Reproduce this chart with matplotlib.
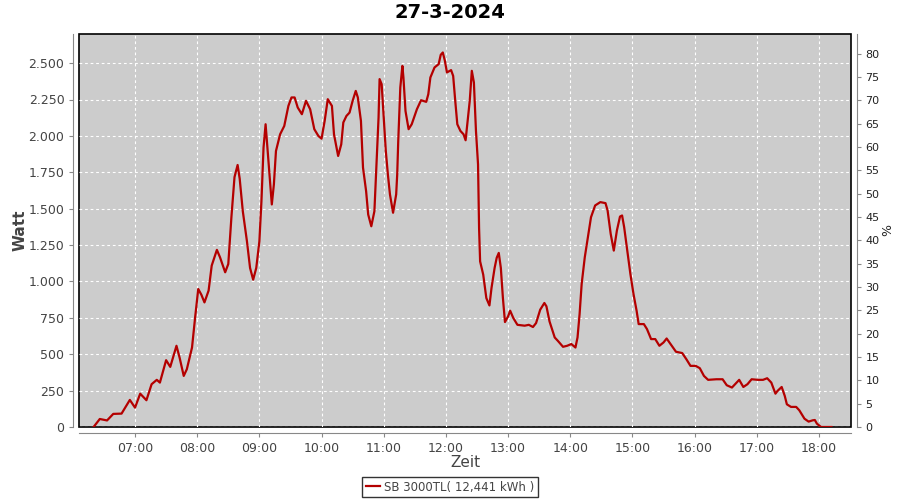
import matplotlib
matplotlib.use("Agg")
import matplotlib.pyplot as plt
from matplotlib.ticker import FuncFormatter, MultipleLocator

title = "27-3-2024"
series_name = "SB 3000TL( 12,441 kWh )"
times = ["06:20", "06:26", "06:33", "06:39", "06:47", "06:55", "07:00", "07:05", "07:11", "07:16",
         "07:21", "07:24", "07:30", "07:34", "07:40", "07:43", "07:47", "07:50", "07:55", "07:58",
         "08:01", "08:04", "08:07", "08:11", "08:14", "08:19", "08:22", "08:27", "08:30", "08:33",
         "08:36", "08:39", "08:41", "08:44", "08:48", "08:51", "08:54", "08:57", "09:00", "09:02",
         "09:04", "09:06", "09:08", "09:10", "09:12", "09:14", "09:16", "09:20", "09:24", "09:28",
         "09:31", "09:34", "09:37", "09:41", "09:45", "09:49", "09:53", "09:57", "10:00", "10:03",
         "10:06", "10:10", "10:12", "10:16", "10:19", "10:21", "10:24", "10:27", "10:30", "10:33",
         "10:35", "10:38", "10:40", "10:43", "10:45", "10:48", "10:51", "10:53", "10:55", "10:56",
         "10:58", "11:00", "11:02", "11:04", "11:06", "11:09", "11:12", "11:13", "11:14", "11:16",
         "11:18", "11:19", "11:21", "11:24", "11:27", "11:32", "11:36", "11:41", "11:43", "11:45",
         "11:49", "11:53", "11:55", "11:57", "11:59", "12:01", "12:05", "12:07", "12:09", "12:11",
         "12:14", "12:17", "12:19", "12:21", "12:23", "12:25", "12:27", "12:29", "12:31", "12:32",
         "12:33", "12:36", "12:39", "12:42", "12:44", "12:47", "12:49", "12:51", "12:53", "12:55",
         "12:57", "13:00", "13:02", "13:05", "13:09", "13:16", "13:20", "13:24", "13:27", "13:31",
         "13:35", "13:37", "13:40", "13:45", "13:48", "13:53", "13:57", "14:01", "14:05", "14:07",
         "14:09", "14:11", "14:14", "14:17", "14:20", "14:24", "14:29", "14:34", "14:36", "14:39",
         "14:42", "14:45", "14:48", "14:50", "14:52", "14:55", "14:58", "15:01", "15:04", "15:06",
         "15:11", "15:14", "15:18", "15:22", "15:26", "15:30", "15:33", "15:38", "15:42", "15:48",
         "15:52", "15:56", "16:01", "16:05", "16:09", "16:13", "16:21", "16:27", "16:31", "16:36",
         "16:39", "16:43", "16:47", "16:51", "16:55", "17:01", "17:06", "17:10", "17:14", "17:18",
         "17:20", "17:24", "17:27", "17:29", "17:33", "17:38", "17:41", "17:46", "17:50", "17:54",
         "17:56", "17:58", "18:02", "18:12"]
watts = [0, 55, 45, 90, 92, 186, 133, 229, 184, 294,
         324, 305, 459, 413, 558, 477, 351, 397, 546, 753,
         948, 909, 856, 937, 1109, 1217, 1166, 1063, 1120, 1441,
         1717, 1800, 1706, 1483, 1276, 1093, 1012, 1093, 1276, 1552,
         1919, 2080, 1896, 1713, 1529, 1667, 1896, 2011, 2068, 2206,
         2264, 2264, 2195, 2149, 2241, 2183, 2046, 1999, 1981, 2103,
         2252, 2206, 2011, 1862, 1942, 2092, 2137, 2160, 2241, 2309,
         2264, 2103, 1782, 1620, 1460, 1379, 1483, 1804, 2126, 2390,
         2355, 2126, 1896, 1735, 1598, 1472, 1598, 1735, 1965, 2333,
         2481, 2401, 2171, 2046, 2080, 2183, 2245, 2234, 2286, 2401,
         2470, 2493, 2557, 2573, 2516, 2436, 2452, 2412, 2241, 2080,
         2034, 2011, 1970, 2103, 2241, 2447, 2367, 2034, 1804, 1368,
         1138, 1047, 886, 835, 955, 1093, 1162, 1196, 1093, 886,
         721, 760, 799, 749, 702, 696, 702, 687, 714, 806,
         852, 829, 725, 615, 592, 551, 558, 570, 546, 615,
         776, 983, 1166, 1304, 1441, 1522, 1545, 1538, 1488, 1327,
         1212, 1350, 1446, 1453, 1373, 1212, 1052, 914, 799, 707,
         707, 673, 604, 604, 558, 581, 608, 558, 517, 508,
         466, 420, 420, 404, 351, 324, 328, 328, 287, 271,
         294, 324, 275, 294, 328, 324, 324, 335, 305, 229,
         248, 275, 213, 156, 138, 138, 115, 57, 37, 46,
         48, 23, 0, 0]
x_ticks = ["07:00", "08:00", "09:00", "10:00", "11:00", "12:00",
           "13:00", "14:00", "15:00", "16:00", "17:00", "18:00"]


def to_hours(s):
    h, m = s.split(":")
    return int(h) + int(m) / 60.0


xs = [to_hours(t) for t in times]

fig = plt.figure(figsize=(9, 5), dpi=100)
ax = fig.add_axes([79 / 900, 1 - 427 / 500, (851 - 79) / 900, (427 - 34) / 500])
ax.set_facecolor("#cccccc")
ax.patch.set_edgecolor("black")
ax.patch.set_linewidth(1.2)

line, = ax.plot(xs, watts, color="#b40000", lw=1.6, label=series_name, zorder=3)

ax.set_xlim(6.099, 18.515)
ax.set_ylim(0, 2700)
ax.yaxis.set_major_locator(MultipleLocator(250))
ax.yaxis.set_major_formatter(FuncFormatter(lambda v, p: f"{int(round(v)):,}".replace(",", ".")))
ax.set_xticks([to_hours(t) for t in x_ticks])
ax.set_xticklabels(x_ticks)
ax.grid(True, color="white", linestyle=(0, (2.5, 2.5)), linewidth=0.8)
ax.set_axisbelow(True)

for side in ["top", "right"]:
    ax.spines[side].set_visible(False)
for side in ["left", "bottom"]:
    ax.spines[side].set_position(("outward", 4))
    ax.spines[side].set_color("#888888")
ax.tick_params(axis="both", colors="#888888", labelcolor="#444444", labelsize=9, length=3, width=0.8)
ax.set_ylabel("Watt", fontsize=11, color="#444444", fontweight="bold", labelpad=1)
ax.set_xlabel("Zeit", fontsize=11, color="#444444", labelpad=0)

ax2 = ax.twinx()
ax2.set_ylim(0, 84.2)
ax2.yaxis.set_major_locator(MultipleLocator(5))
for side in ["top", "left", "bottom"]:
    ax2.spines[side].set_visible(False)
ax2.spines["right"].set_position(("outward", 4))
ax2.spines["right"].set_color("#888888")
ax2.tick_params(axis="y", colors="#888888", labelcolor="#222222", labelsize=8, length=3, width=0.8)
ax2.set_ylabel("%", fontsize=9, color="#222222", labelpad=1)

fig.suptitle(title, fontsize=14, fontweight="bold", y=0.995, va="top")

leg = fig.legend(handles=[line], loc="center", bbox_to_anchor=(0.5, 0.026), fontsize=8.5,
                 frameon=True, fancybox=False, edgecolor="black", handlelength=1.2,
                 handletextpad=0.3, borderpad=0.3, labelcolor="#444444")
leg.get_frame().set_linewidth(1.0)

fig.savefig("out.png", dpi=100, facecolor="white")
